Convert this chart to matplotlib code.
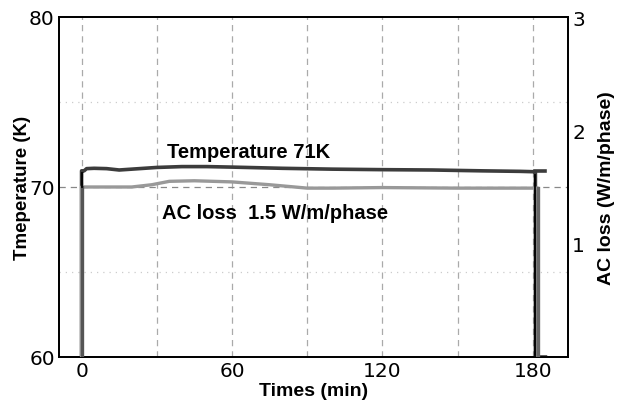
import matplotlib
matplotlib.use("Agg")
import matplotlib.pyplot as plt

# Temperature trace (K)
temp_t = [0, 0, 1, 2, 5, 10, 15, 20, 30, 40, 50, 60, 80, 100, 120, 140, 160, 175, 180, 181, 181, 185]
temp_v = [60, 70.95, 70.95, 71.08, 71.1, 71.08, 71.0, 71.05, 71.15, 71.2, 71.2, 71.17, 71.1, 71.05, 71.02, 71.0, 70.95, 70.92, 70.9, 70.9, 60, 60]
temp_tail_t = [181, 185]
temp_tail_v = [70.92, 70.92]

# AC loss trace (W/m/phase)
ac_t = [0, 0, 5, 20, 28, 35, 45, 60, 75, 90, 100, 120, 150, 180, 182, 182]
ac_v = [0, 1.5, 1.5, 1.5, 1.52, 1.55, 1.555, 1.545, 1.52, 1.49, 1.49, 1.495, 1.49, 1.49, 1.49, 0]

x_ticks = [0, 60, 120, 180]
y_ticks = [60, 70, 80]
y2_ticks = [1, 2, 3]

plt.rcParams['font.family'] = ['Liberation Sans', 'DejaVu Sans']

fig = plt.figure(figsize=(6.29, 4.10), dpi=100)
ax = fig.add_axes([59/629, 1-358/410, (568-59)/629, (358-18)/410])
ax2 = ax.twinx()

# grid
for xv in [0, 30, 60, 90, 120, 150, 180]:
    ax.axvline(xv, color='#aaaaaa', lw=0.9, ls=(0, (5, 4)), zorder=0)
ax.axhline(70, color='#888888', lw=0.9, ls=(0, (5, 4)), zorder=0)
for yv in [65, 75]:
    ax.axhline(yv, color='#cccccc', lw=0.9, ls=(0, (1, 4)), zorder=0)

ax2.plot(ac_t, ac_v, color='#999999', lw=2.4, zorder=3)
ax2.plot([0, 0], [0, 1.5], color='#555555', lw=2.4, zorder=4)
ax2.plot([182, 182], [0, 1.49], color='#666666', lw=2.4, zorder=4)
ax.plot(temp_t, temp_v, color='#3c3c3c', lw=2.6, zorder=4)
ax2.plot([0, 0], [1.5, 1.62], color='black', lw=1.3, zorder=5)
ax2.plot([180.8, 180.8], [0.02, 1.61], color='black', lw=1.3, zorder=5)
ax.plot(temp_tail_t, temp_tail_v, color='#3c3c3c', lw=2.6, zorder=4)

ax.set_xlim(-9, 194)
ax.set_ylim(60, 80)
ax2.set_ylim(0, 3)
ax.set_xticks(x_ticks)
ax.set_yticks(y_ticks)
ax2.set_yticks(y2_ticks)
for a in (ax, ax2):
    a.tick_params(length=0, labelsize=14.5, pad=3)
    for s in a.spines.values():
        s.set_linewidth(1.3)
for lab in ax.get_xticklabels() + ax.get_yticklabels() + ax2.get_yticklabels():
    lab.set_fontfamily('DejaVu Sans')

ax.set_xlabel('Times (min)', fontsize=14, fontweight='bold')
ax.set_ylabel('Tmeperature (K)', fontsize=13.5, fontweight='bold')
ax2.set_ylabel('AC loss (W/m/phase)', fontsize=14, fontweight='bold')
ax.xaxis.set_label_coords(0.5, -0.1, transform=ax.transAxes)
ax.xaxis.label.set_va('center')
ax.yaxis.set_label_coords(-0.072, 0.5, transform=ax.transAxes)
ax.yaxis.label.set_va('center')
ax2.yaxis.set_label_coords(1.075, 0.5, transform=ax2.transAxes)
ax2.yaxis.label.set_va('center')

ax.text(34, 72.1, 'Temperature 71K', fontsize=14.5, fontweight='bold', va='center', ha='left')
ax.text(32, 68.5, 'AC loss  1.5 W/m/phase', fontsize=14.5, fontweight='bold', va='center', ha='left')

fig.savefig('out.png', dpi=100)
